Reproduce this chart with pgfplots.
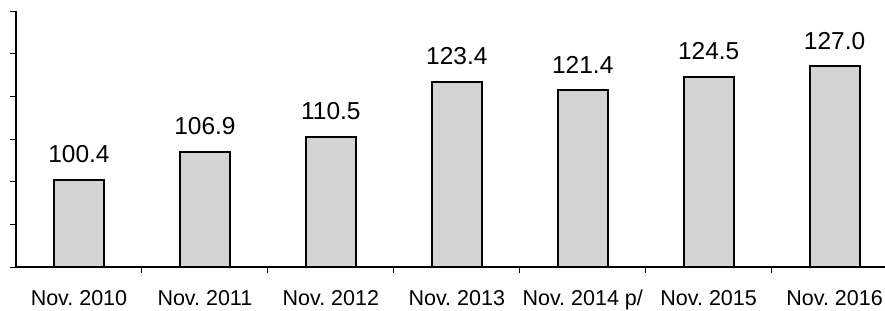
\documentclass[border=0pt]{standalone}
\usepackage{fontspec}
\setmainfont{Liberation Sans}
\usepackage{pgfplots}
\pgfplotsset{compat=1.18}
\frenchspacing
\begin{document}
\begin{tikzpicture}
\useasboundingbox (-16bp,-44bp) rectangle (869bp,267bp);
\begin{axis}[
  at={(0,0)}, anchor=south west,
  scale only axis, width=869bp, height=256bp,
  xmin=-0.5, xmax=6.4, ymin=80, ymax=140,
  axis x line*=bottom, axis y line*=left,
  x axis line style={line width=1.2bp},
  y axis line style={line width=1.6bp},
  /pgf/number format/assume math mode=true,
  ytick={80,90,...,140}, yticklabels={},
  ytick align=outside, xtick align=outside,
  major tick length=6bp,
  tick style={black, line width=1bp},
  xtick={0.5,1.5,...,5.5}, xticklabels={},
  extra x ticks={0,1,2,3,4,5,6},
  extra x tick labels={Nov.\ 2010,Nov.\ 2011,Nov.\ 2012,Nov.\ 2013,Nov.\ 2014 p/,Nov.\ 2015,Nov.\ 2016},
  extra x tick style={major tick length=0pt, tick style={draw=none},
    xticklabel style={inner sep=0pt, anchor=base, text height=15bp, text depth=0pt, yshift=-38bp, font=\fontsize{21.5bp}{25bp}\selectfont\frenchspacing}},
  ybar, bar width=50bp,
  nodes near coords={\pgfmathprintnumber[fixed,fixed zerofill,precision=1]{\pgfplotspointmeta}},
  every node near coord/.append style={inner sep=0pt, anchor=south, yshift=16bp, font=\fontsize{24.5bp}{28bp}\selectfont, black},
  clip=false,
]
\addplot[draw=black, line width=2bp, fill=black!17] coordinates {
  (0,100.4) (1,106.9) (2,110.5) (3,123.4) (4,121.4) (5,124.5) (6,127.0)
};
\end{axis}
\end{tikzpicture}
\end{document}
